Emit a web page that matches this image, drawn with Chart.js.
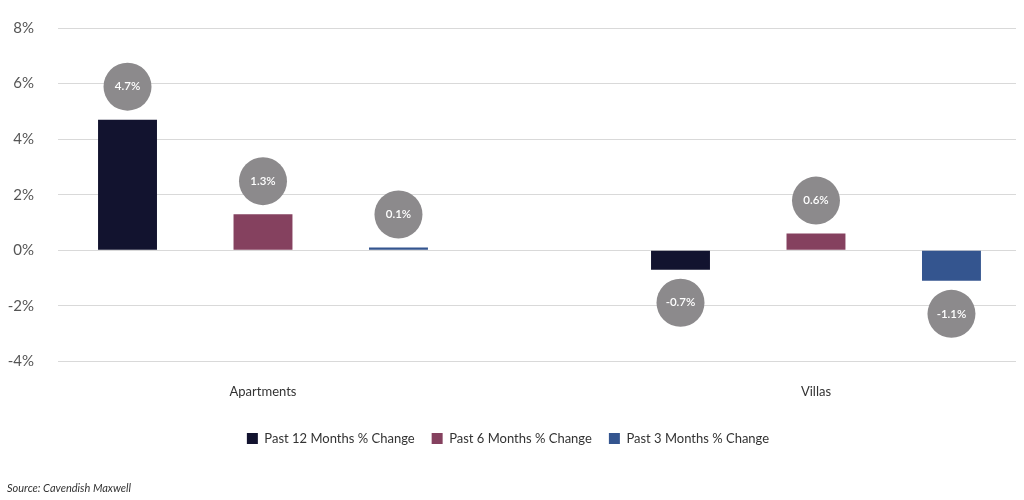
<!DOCTYPE html>
<html>
<head>
<meta charset="utf-8">
<script src="https://cdn.jsdelivr.net/npm/chart.js@4"></script>
<style>
    html, body { margin: 0; padding: 0; background: #fff; }
    #wrap { position: relative; width: 1024px; height: 500px; }
    #source { position: absolute; left: 7px; top: 481px; font: italic 11px Lato, sans-serif; color: #333; }
</style>
</head>
<body>
<div id="wrap">
    <canvas id="chart" width="1024" height="500"></canvas>
    <div id="source">Source: Cavendish Maxwell</div>
</div>
<script>
// ---- data -----------------------------------------------------------------
const categories = ['Apartments', 'Villas'];
const seriesNames = ['Past 12 Months % Change', 'Past 6 Months % Change', 'Past 3 Months % Change'];
const past12 = [4.7, -0.7];
const past6 = [1.3, 0.6];
const past3 = [0.1, -1.1];
const yTicks = [-4, -2, 0, 2, 4, 6, 8];

const colors = ['#12132f', '#85415f', '#34558f'];
const values = [past12, past6, past3];

// gray bubble with the value, sitting just past the end of each bar
const bubbles = {
    id: 'bubbles',
    afterDatasetsDraw(chart) {
        const ctx = chart.ctx;
        chart.data.datasets.forEach((ds, di) => {
            chart.getDatasetMeta(di).data.forEach((bar, i) => {
                const v = ds.data[i].y;
                const cy = v >= 0 ? bar.y - 33 : bar.y + 33;
                ctx.save();
                ctx.beginPath();
                ctx.arc(bar.x, cy, 24, 0, Math.PI * 2);
                ctx.fillStyle = '#8c8a8c';
                ctx.fill();
                ctx.fillStyle = '#fff';
                ctx.font = '600 11.5px Lato, sans-serif';
                ctx.textAlign = 'center';
                ctx.textBaseline = 'middle';
                ctx.fillText(v.toFixed(1) + '%', bar.x, cy);
                ctx.restore();
            });
        });
    }
};

new Chart(document.getElementById('chart'), {
    type: 'bar',
    data: {
        datasets: seriesNames.map((name, s) => ({
            label: name,
            data: categories.map((c, i) => ({ x: i + 1, y: values[s][i] })),
            backgroundColor: colors[s],
            categoryPercentage: 0.735,
            barPercentage: 0.435
        }))
    },
    options: {
        responsive: false,
        animation: false,
        layout: { padding: { top: 28, right: 8, bottom: 45, left: 0 } },
        plugins: {
            tooltip: { enabled: false },
            legend: {
                position: 'bottom',
                labels: {
                    boxWidth: 11, boxHeight: 11, padding: 17,
                    color: '#333', font: { family: 'Lato, sans-serif', size: 13 }
                }
            }
        },
        scales: {
            x: {
                type: 'linear',
                offset: false,
                min: 0.6293,
                max: 2.3617,
                grid: { display: false },
                border: { display: false },
                afterBuildTicks(scale) { scale.ticks = categories.map((c, i) => ({ value: i + 1 })); },
                ticks: {
                    padding: 15,
                    color: '#333',
                    font: { family: 'Lato, sans-serif', size: 13 },
                    callback: v => categories[v - 1]
                }
            },
            y: {
                min: yTicks[0],
                max: yTicks[yTicks.length - 1],
                afterBuildTicks(scale) { scale.ticks = yTicks.map(v => ({ value: v })); },
                afterFit(scale) { scale.width = 58; scale.paddingTop = 0; scale.paddingBottom = 0; },
                grid: { color: '#d9d9d9', drawTicks: false },
                border: { display: false },
                ticks: {
                    padding: 24,
                    color: '#555',
                    font: { family: 'Lato, sans-serif', size: 15 },
                    callback: v => v + '%'
                }
            }
        }
    },
    plugins: [bubbles]
});
</script>
</body>
</html>
